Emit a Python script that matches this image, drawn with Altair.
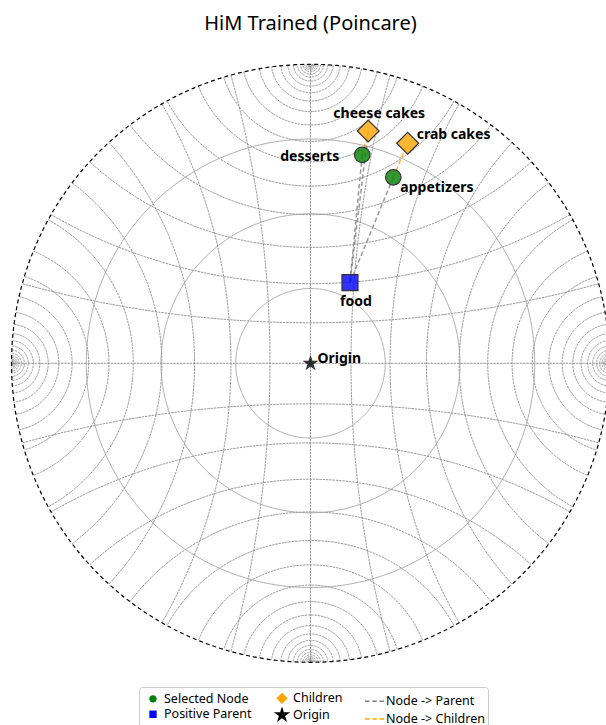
import numpy as np
import pandas as pd
import altair as alt

# ---------------- nodes (Poincare-disk coordinates) ----------------
node_labels = ["food", "desserts", "appetizers", "cheese cakes", "crab cakes", "Origin"]
node_roles = ["Positive Parent", "Selected Node", "Selected Node", "Children", "Children", "Origin"]
node_x = [0.132, 0.173, 0.277, 0.193, 0.325, 0.0]
node_y = [0.270, 0.697, 0.622, 0.777, 0.736, 0.0]

# ---------------- edges ----------------
edge_from = ["desserts", "appetizers", "cheese cakes", "desserts", "appetizers"]
edge_to = ["food", "food", "food", "cheese cakes", "crab cakes"]
edge_roles = ["Node -> Parent", "Node -> Parent", "Node -> Parent",
              "Node -> Children", "Node -> Children"]

# ---------------- legend entries (filled column by column) ----------------
legend_order = ["Selected Node", "Positive Parent", "Children", "Origin",
                "Node -> Parent", "Node -> Children"]
legend_colors = ["#008000", "#0000ff", "#ffa500", "#000000", "#808080", "#ffa500"]

# ---------------- hyperbolic grid ----------------
circle_radii = [0.25, 0.5, 0.75]      # Euclidean circles about the origin
geodesic_step = 3 / 11                # hyperbolic spacing between geodesics
geodesic_count = 22                   # geodesics on each side of each diameter

STAR = ("M0,-1L0.2245,-0.309L0.9511,-0.309L0.3633,0.118L0.5878,0.809L0,0.382"
        "L-0.5878,0.809L-0.3633,0.118L-0.9511,-0.309L-0.2245,-0.309Z")

# marker styling per role
role_shape = {"Selected Node": "circle", "Children": "diamond", "Positive Parent": "square",
              "Origin": STAR, "Node -> Parent": "stroke", "Node -> Children": "stroke"}
role_plot_size = {"Selected Node": 240, "Children": 480, "Positive Parent": 256, "Origin": 170}
role_legend_size = {"Selected Node": 34, "Children": 85, "Positive Parent": 34, "Origin": 150,
                    "Node -> Parent": 400, "Node -> Children": 400}
role_dash = {"Node -> Parent": [4.5, 2.8], "Node -> Children": [4.5, 2.8]}
role_color = dict(zip(legend_order, legend_colors))


def orth_geodesic(t, n=110):
    """Geodesic meeting the horizontal diameter at right angles at (t, 0)."""
    a = abs(t)
    c = (1 + a * a) / (2 * a)
    r = (1 - a * a) / (2 * a)
    phi_end = np.arccos((1 / c - c) / r)
    phi = np.linspace(phi_end, 2 * np.pi - phi_end, n)
    x = c + r * np.cos(phi)
    y = r * np.sin(phi)
    if t < 0:
        x = -x
    return x, y


geo_rows = []
gid = 0
for k in range(-geodesic_count, geodesic_count + 1):
    if k == 0:
        xs, ys = np.array([-1.0, 1.0]), np.array([0.0, 0.0])
    else:
        xs, ys = orth_geodesic(np.tanh(k * geodesic_step / 2))
    for family in (0, 1):
        px, py = (xs, ys) if family == 0 else (ys, xs)
        for i, (a, b) in enumerate(zip(px, py)):
            geo_rows.append({"gx": round(float(a), 5), "gy": round(float(b), 5),
                             "gid": gid, "o": i})
        gid += 1
geo_df = pd.DataFrame(geo_rows)

theta = np.linspace(0, 2 * np.pi, 361)
ring_rows = []
for j, r in enumerate(circle_radii):
    for i, th in enumerate(theta):
        ring_rows.append({"gx": round(r * np.cos(th), 5), "gy": round(r * np.sin(th), 5),
                          "gid": j, "o": i})
ring_df = pd.DataFrame(ring_rows)
rim_df = pd.DataFrame({"gx": np.round(np.cos(theta), 5), "gy": np.round(np.sin(theta), 5),
                       "gid": 0, "o": np.arange(len(theta))})

# ---------------- tables for nodes and edges ----------------
node_df = pd.DataFrame({"label": node_labels, "role": node_roles, "x": node_x, "y": node_y})
pos = dict(zip(node_labels, zip(node_x, node_y)))
edge_rows = []
for i, (a, b, r) in enumerate(zip(edge_from, edge_to, edge_roles)):
    for j, n in enumerate((a, b)):
        edge_rows.append({"eid": i, "o": j, "x": pos[n][0], "y": pos[n][1], "role": r})
edge_df = pd.DataFrame(edge_rows)

# legend key table: one row per entry, no position so nothing is drawn in the plot
key_df = pd.DataFrame({"role": legend_order, "x": [None] * 6, "y": [None] * 6})

# ---------------- scales ----------------
PX = 299.0  # pixels per unit radius
xscale = alt.Scale(domain=[-310.5 / PX, 295.5 / PX], nice=False, zero=False)
yscale = alt.Scale(domain=[-361.7 / PX, 323.3 / PX], nice=False, zero=False)
fill_scale = alt.Scale(type="ordinal", domain=legend_order, range=legend_colors)
stroke_scale = alt.Scale(type="ordinal", domain=legend_order, range=legend_colors)
shape_scale = alt.Scale(type="ordinal", domain=legend_order,
                        range=[role_shape[r] for r in legend_order])
size_scale = alt.Scale(type="ordinal", domain=legend_order,
                       range=[role_legend_size[r] for r in legend_order])
dash_scale = alt.Scale(type="ordinal", domain=legend_order,
                       range=[role_dash.get(r, [1, 0]) for r in legend_order])

legend = alt.Legend(
    title=None, orient="none", legendX=139, legendY=647, columns=3,
    labelOffset=0, columnPadding=19, rowPadding=-3, symbolStrokeWidth=1.5,
    labelFont="Noto Sans", labelFontSize=12.5, labelColor="black",
    padding=3, strokeColor="#cccccc", fillColor="white", cornerRadius=3,
)

X = alt.X("x:Q", scale=xscale, axis=None)
Y = alt.Y("y:Q", scale=yscale, axis=None)


def grid_layer(df, **style):
    return alt.Chart(df).mark_line(clip=True, **style).encode(
        x=alt.X("gx:Q", scale=xscale, axis=None),
        y=alt.Y("gy:Q", scale=yscale, axis=None),
        detail="gid:N",
        order="o:Q",
    )


geo = grid_layer(geo_df, stroke="#858585", strokeWidth=0.85, strokeDash=[2.5, 0.8])
rings = grid_layer(ring_df, stroke="#9a9a9a", strokeWidth=0.8)
rim = grid_layer(rim_df, stroke="black", strokeWidth=1.2, strokeDash=[4, 3])

edges = alt.Chart(edge_df).mark_line(strokeWidth=1.5, strokeOpacity=0.8).encode(
    x=X, y=Y,
    stroke=alt.Stroke("role:N", scale=stroke_scale, legend=legend),
    strokeDash=alt.StrokeDash("role:N", scale=dash_scale, legend=legend),
    detail="eid:N",
    order="o:Q",
)

# the legend: every channel keyed on the same role field, so they merge into one
key = alt.Chart(key_df).mark_point(filled=True, opacity=1).encode(
    x=X, y=Y,
    fill=alt.Fill("role:N", scale=fill_scale, legend=legend),
    stroke=alt.Stroke("role:N", scale=stroke_scale, legend=legend),
    shape=alt.Shape("role:N", scale=shape_scale, legend=legend),
    size=alt.Size("role:N", scale=size_scale, legend=legend),
    strokeDash=alt.StrokeDash("role:N", scale=dash_scale, legend=legend),
)

point_layers = []
for role in ["Positive Parent", "Selected Node", "Children", "Origin"]:
    point_layers.append(
        alt.Chart(node_df).transform_filter(alt.datum.role == role).mark_point(
            filled=True, opacity=1, fill=role_color[role], fillOpacity=0.8,
            stroke="#333333", strokeWidth=1.2,
            shape=role_shape[role], size=role_plot_size[role],
        ).encode(x=X, y=Y)
    )

# label placement: (dx, dy, align)
placement = {
    "food": (6, 23, "center"),
    "desserts": (-23, 6, "right"),
    "appetizers": (7, 14.5, "left"),
    "cheese cakes": (11, -12.5, "center"),
    "crab cakes": (9, -4, "left"),
    "Origin": (7, 0, "left"),
}
labels = []
for name, (dx, dy, align) in placement.items():
    labels.append(
        alt.Chart(node_df).transform_filter(alt.datum.label == name).mark_text(
            font="Noto Sans", fontWeight="bold", fontSize=14, color="black",
            dx=dx, dy=dy, align=align, baseline="alphabetic",
        ).encode(x=X, y=Y, text="label:N")
    )

chart = alt.layer(geo, rings, rim, edges, key, *point_layers, *labels).properties(
    width=606,
    height=685,
    title=alt.TitleParams(
        "HiM Trained (Poincare)", font="Noto Sans", fontSize=20, fontWeight="normal",
        color="black", anchor="middle", frame="group", dx=7.5, dy=22.5, offset=13,
        baseline="alphabetic",
    ),
    padding={"left": 0, "top": 40, "right": 0, "bottom": 0},
    autosize=alt.AutoSizeParams(type="none"),
).configure_view(stroke=None)

chart.save("out.html", embed_options={"renderer": "svg", "actions": False})
